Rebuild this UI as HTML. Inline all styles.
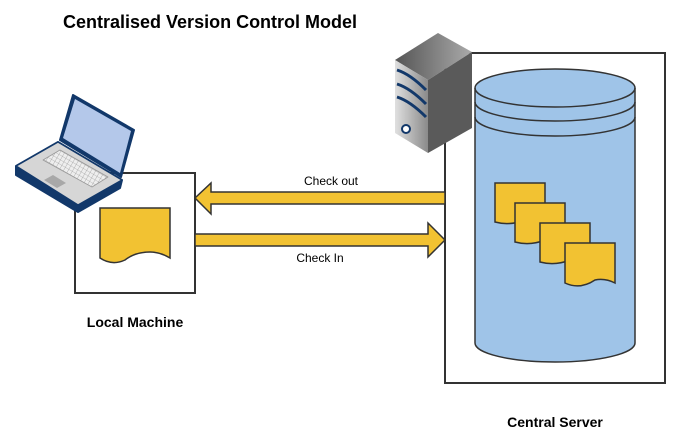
<!DOCTYPE html>
<html><head><meta charset="utf-8"><style>html,body{margin:0;padding:0;background:#fff}svg{display:block}</style></head>
<body>
<svg width="684" height="446" viewBox="0 0 684 446" xmlns="http://www.w3.org/2000/svg" font-family="Liberation Sans, Arial, sans-serif">
<defs>
<linearGradient id="sv" x1="0" x2="1"><stop offset="0" stop-color="#e0e0e0"/><stop offset="1" stop-color="#8a8a8a"/></linearGradient>
<linearGradient id="sv2" x1="0" x2="1"><stop offset="0" stop-color="#555"/><stop offset="1" stop-color="#aaa"/></linearGradient>
<pattern id="kb" width="4" height="4" patternUnits="userSpaceOnUse" patternTransform="rotate(30)"><rect width="4" height="4" fill="#eee"/><path d="M0,0H4M0,0V4" stroke="#888" stroke-width="0.6"/></pattern>
</defs>
<text x="63" y="28" font-size="18" font-weight="bold" fill="#000">Centralised Version Control Model</text>
<!-- local box -->
<rect x="75" y="173" width="120" height="120" fill="#fff" stroke="#333" stroke-width="2"/>
<path d="M100,208 H170 V258 Q160,252 150,252 Q135,252 125,260 Q112,266 100,258 Z" fill="#f2c232" stroke="#333" stroke-width="1.5"/>
<!-- laptop -->
<g stroke="#12386a" stroke-linejoin="round">
<path d="M16,166 L58,142 L122,180 L120,188 L78,212 L16,175 Z" fill="#12386a" stroke-width="2"/>
<path d="M16,166 L58,142 L122,180 L78,205 Z" fill="#d6d6d6" stroke-width="1.5"/>
<path d="M60,140 L73,95 L134,130 L121,177 Z" fill="#12386a" stroke-width="2"/>
<path d="M63,138 L75,99 L131,131 L120,173 Z" fill="#b4c8ea" stroke="none"/>
<path d="M43,160 L60,150 L108,177 L92,187 Z" fill="url(#kb)" stroke="#999" stroke-width="0.8"/>
<path d="M44,180 L53,175 L66,183 L57,188 Z" fill="#a8a8a8" stroke="none"/>
</g>
<!-- server box -->
<rect x="445" y="53" width="220" height="330" fill="#fff" stroke="#333" stroke-width="2"/>
<path d="M475,88 V343 A80,19 0 0 0 635,343 V88 A80,19 0 0 0 475,88 Z" fill="#9fc4e8" stroke="#333" stroke-width="1.5"/>
<path d="M475,88 A80,19 0 0 0 635,88" fill="none" stroke="#333" stroke-width="1.5"/>
<path d="M475,102 A80,19 0 0 0 635,102" fill="none" stroke="#333" stroke-width="1.5"/>
<path d="M475,117 A80,19 0 0 0 635,117" fill="none" stroke="#333" stroke-width="1.5"/>
<g fill="#f2c232" stroke="#333" stroke-width="1.5">
<path d="M495,183 H545 V222 Q535,218 525,220 Q510,226 495,222 Z"/>
<path d="M515,203 H565 V242 Q555,238 545,240 Q530,246 515,242 Z"/>
<path d="M540,223 H590 V262 Q580,258 570,260 Q555,266 540,262 Z"/>
<path d="M565,243 H615 V283 Q605,278 595,280 Q580,290 565,283 Z"/>
</g>
<!-- server icon -->
<path d="M395,60 L438,33 L472,52 L428,80 Z" fill="url(#sv2)"/>
<path d="M428,80 L472,52 L472,128 L428,153 Z" fill="#5a5a5a"/>
<path d="M395,60 L428,80 L428,153 L395,133 Z" fill="url(#sv)"/>
<g stroke="#12386a" stroke-width="3" fill="none">
<path d="M397,70 Q410,74 426,90"/><path d="M397,84 Q410,88 426,104"/><path d="M397,97 Q410,101 426,117"/>
</g>
<circle cx="406" cy="129" r="4" fill="#fff" stroke="#12386a" stroke-width="2"/>
<!-- arrows -->
<path d="M445,192 H211 V183 L195,198 L211,214 V204 H445 Z" fill="#f2c232" stroke="#333" stroke-width="1.5"/>
<path d="M195,234 H428 V223 L445,240 L428,257 V246 H195 Z" fill="#f2c232" stroke="#333" stroke-width="1.5"/>
<text x="331" y="185" font-size="12" text-anchor="middle" fill="#000">Check out</text>
<text x="320" y="262" font-size="12" text-anchor="middle" fill="#000">Check In</text>
<text x="135" y="327" font-size="14" font-weight="bold" text-anchor="middle" fill="#000">Local Machine</text>
<text x="555" y="427" font-size="14" font-weight="bold" text-anchor="middle" fill="#000">Central Server</text>
</svg>
</body></html>
